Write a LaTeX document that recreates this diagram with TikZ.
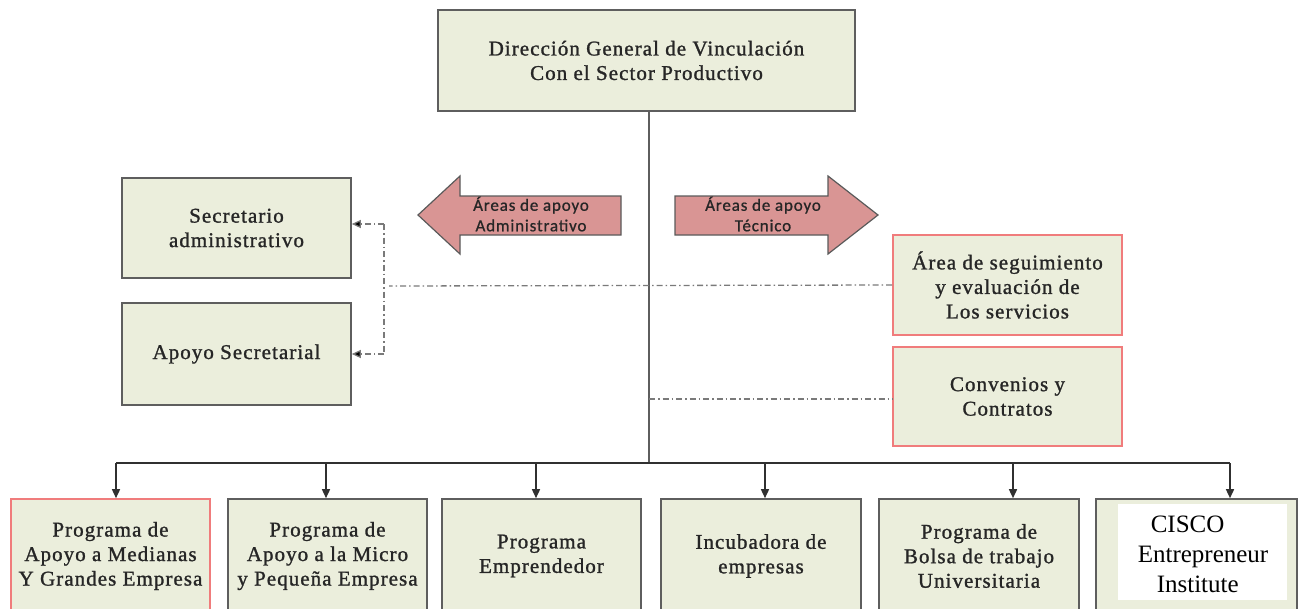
\documentclass[tikz,border=0pt]{standalone}
\usepackage{fontspec}
\setmainfont{Liberation Serif}
\newfontfamily\boxfont[LetterSpace=5,FakeBold=1.2]{Liberation Serif}
\newfontfamily\arrfont[LetterSpace=5,FakeBold=0.8]{Carlito}
\usetikzlibrary{arrows.meta}
\definecolor{boxfill}{HTML}{EBEEDC}
\definecolor{boxgray}{HTML}{5E5E5E}
\definecolor{boxred}{HTML}{F07C7C}
\definecolor{arrfill}{HTML}{D99594}
\definecolor{arrgray}{HTML}{5A5A5A}
\definecolor{ddgray}{HTML}{7A7A7A}
\definecolor{linegray}{HTML}{303030}
\definecolor{inkc}{HTML}{262626}
\tikzset{
  orgbox/.style={draw=boxgray, line width=1.6pt, fill=boxfill, align=center, inner sep=0pt,
    text=inkc, font=\boxfont\fontsize{21}{24.5}\selectfont},
  redbox/.style={orgbox, draw=boxred},
  lowbox/.style={minimum width=199pt, minimum height=114pt},
  sidebox/.style={minimum width=229pt, minimum height=100pt},
  fatarrow/.style={draw=arrgray, fill=arrfill, line width=1.2pt},
  arrtext/.style={align=center, inner sep=0pt, font=\arrfont\fontsize{17}{20.5}\selectfont, text=inkc},
  dd/.style={draw=ddgray, line width=1.3pt, dash pattern=on 6pt off 3pt on 1.5pt off 3pt},
  conn/.style={draw=linegray, line width=1.5pt},
  stem/.style={draw=boxgray, line width=2pt},
  tipped/.style={-{Triangle[length=9pt,width=8pt]}},
  ddtip/.style={-{Triangle[length=9pt,width=8pt,fill=black]}},
}
\begin{document}
\begin{tikzpicture}[x=1pt,y=-1pt]
\useasboundingbox (0,0) rectangle (1303,608);
\begin{scope}
\clip (0,0) rectangle (1303,608);

% top box
\node[orgbox, minimum width=417pt, minimum height=101pt] (dir) at (646.5,60.5)
  {Dirección General de Vinculación\\Con el Sector Productivo};

% left boxes
\node[orgbox, sidebox] (sec) at (236.5,228) {Secretario\\administrativo};
\node[orgbox, sidebox, minimum height=102pt] (aps) at (236.5,354) {Apoyo Secretarial};

% right boxes
\node[redbox, sidebox] (seg) at (1007.5,285) {Área de seguimiento\\y evaluación de\\Los servicios};
\node[redbox, sidebox, minimum height=99pt] (conv) at (1007.5,396.5) {Convenios y\\Contratos};

% bottom boxes
\node[redbox, lowbox] (b1) at (110.5,556) {Programa de\\Apoyo a Medianas\\Y Grandes Empresa};
\node[orgbox, lowbox] (b2) at (327.5,556) {Programa de\\Apoyo a la Micro\\y Pequeña Empresa};
\node[orgbox, lowbox] (b3) at (541.5,556) {Programa\\Emprendedor};
\node[orgbox, lowbox, minimum width=200pt] (b4) at (761,556) {Incubadora de\\empresas};
\node[orgbox, lowbox, minimum width=200pt] (b5) at (979,556) {Programa de\\Bolsa de trabajo\\Universitaria};
\node[orgbox, lowbox, minimum width=201pt] (b6) at (1196.5,556) {};
\node[fill=white, minimum width=169pt, minimum height=96pt, inner sep=0pt] (b6in) at (1202.5,552) {};
\node[align=left, inner sep=0pt, font=\fontsize{25}{30}\selectfont] (cisco) at (1203,554)
  {\hspace*{13pt}CISCO\\Entrepreneur\\\hspace*{19pt}Institute};

% fat arrows
\draw[fatarrow] (418,215) -- (460,176) -- (460,196) -- (621,196) -- (621,235) -- (460,235) -- (460,254) -- cycle;
\node[arrtext] (aadm) at (531,214) {Áreas de apoyo\\Administrativo};
\draw[fatarrow] (675,196) -- (828,196) -- (828,176) -- (878,215) -- (828,254) -- (828,235) -- (675,235) -- cycle;
\node[arrtext] (atec) at (763,214) {Áreas de apoyo\\Técnico};

% central stem and bus
\coordinate (stemtop) at (649,111);
\coordinate (hub) at (649,463);
\draw[stem] (stemtop) -- (hub);
\coordinate (t1) at (116,463);
\coordinate (t2) at (326,463);
\coordinate (t3) at (536,463);
\coordinate (t4) at (765,463);
\coordinate (t5) at (1013,463);
\coordinate (t6) at (1230,463);
\draw[conn] (t1) -- (t6);
\foreach \i in {1,...,6} {
  \draw[conn, tipped] (t\i) -- (t\i |- b\i.north);
}

% dash-dot links
\coordinate (vtop) at (384,224);
\coordinate (vbot) at (384,354);
\draw[dd] (seg.west) -- (389,286);
\draw[dd] (vtop) -- (vbot);
\draw[dd, ddtip] (vtop) -- (vtop -| sec.east);
\draw[dd, ddtip] (vbot) -- (vbot -| aps.east);
\coordinate (cj) at (649,399);
\draw[dd] (cj) -- (conv.west |- cj);
\end{scope}
\end{tikzpicture}
\end{document}
